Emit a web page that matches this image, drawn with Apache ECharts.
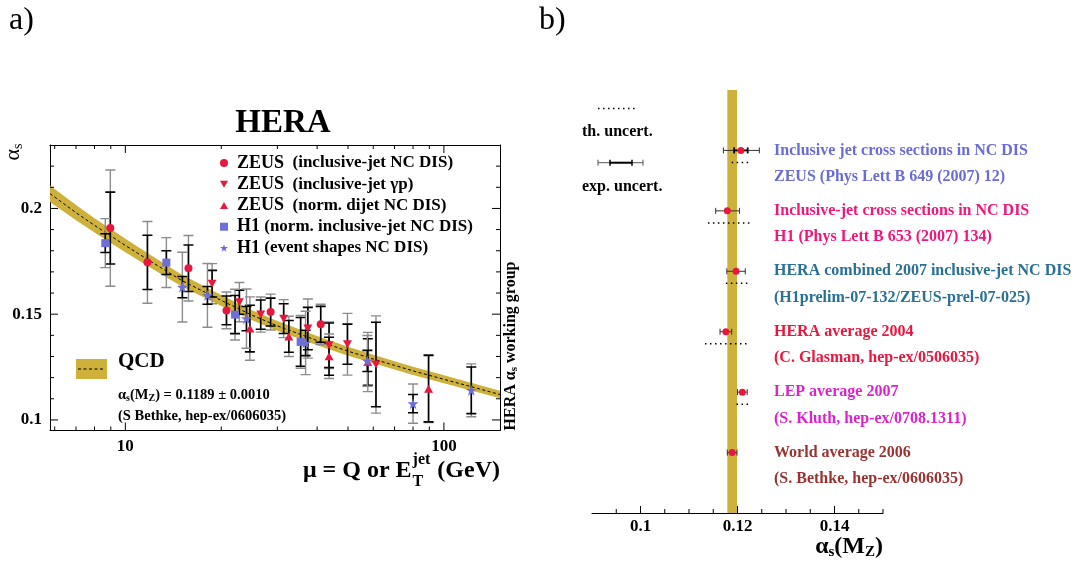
<!DOCTYPE html>
<html>
<head>
<meta charset="utf-8">
<script src="https://cdn.jsdelivr.net/npm/echarts@6/dist/echarts.min.js"></script>
<style>
  html, body { margin: 0; padding: 0; background: #fff; }
  #chart { width: 1077px; height: 566px; }
</style>
</head>
<body>
<div id="chart"></div>
<script>
// ---------- panel a: alpha_s versus scale ----------
// QCD running coupling band (centre and half width)
const qcdMu        = [5.8, 7, 8, 9, 10, 12, 15, 20, 25, 30, 40, 50, 60, 70, 80, 100, 120, 150];
const qcdAlpha     = [0.2070, 0.1980, 0.1920, 0.1870, 0.1825, 0.1750, 0.1660, 0.1565, 0.1495, 0.1445,
                      0.1375, 0.1325, 0.1288, 0.1258, 0.1232, 0.1192, 0.1160, 0.1120];
const qcdHalfWidth = [0.0039, 0.0036, 0.0034, 0.0033, 0.0032, 0.0030, 0.0028, 0.0026, 0.0024, 0.0023,
                      0.0022, 0.0021, 0.0020, 0.0020, 0.0019, 0.0019, 0.0018, 0.0018];

// ZEUS inclusive-jet NC DIS
const zeusDisMu    = [8.97, 11.73, 15.78, 20.77, 28.58, 41.04];
const zeusDisAlpha = [0.1907, 0.1745, 0.1717, 0.1518, 0.1510, 0.1452];
const zeusDisStat  = [0.0170, 0.0128, 0.0110, 0.0068, 0.0066, 0.0085];
const zeusDisTotal = [0.0275, 0.0193, 0.0155, 0.0087, 0.0085, 0.0095];

// ZEUS inclusive-jet photoproduction
const zeusGpMu    = [18.72, 22.8, 26.6, 31.4, 37.4, 43.6, 49.8, 61.2];
const zeusGpAlpha = [0.1644, 0.1557, 0.1498, 0.1479, 0.1432, 0.1353, 0.1358, 0.1262];
const zeusGpStat  = [0.0063, 0.0057, 0.0069, 0.0070, 0.0100, 0.0105, 0.0095, 0.0200];
const zeusGpTotal = [0.0095, 0.0093, 0.0083, 0.0090, 0.0140, 0.0110, 0.0146, 0.0230];

// ZEUS normalised dijet NC DIS
const zeusDijetMu    = [24.6, 32.6, 43.6, 57.7, 89.5];
const zeusDijetAlpha = [0.1432, 0.1395, 0.1301, 0.1274, 0.1148];
const zeusDijetStat  = [0.0110, 0.0075, 0.0090, 0.0110, 0.0157];
const zeusDijetTotal = [0.0150, 0.0095, 0.0105, 0.0140, 0.0160];

// H1 normalised inclusive-jet NC DIS
const h1JetMu    = [8.65, 13.45, 22.1, 35.5];
const h1JetAlpha = [0.1836, 0.1744, 0.1498, 0.1369];
const h1JetStat  = [0.0044, 0.0056, 0.0090, 0.0115];
const h1JetTotal = [0.0116, 0.0118, 0.0120, 0.0125];

// H1 event shapes NC DIS
const h1ShapeMu    = [15.1, 18.1, 24.0, 36.8, 57.5, 80.0, 121.9];
const h1ShapeAlpha = [0.1628, 0.1589, 0.1479, 0.1364, 0.1279, 0.1077, 0.1140];
const h1ShapeStat  = [0.0050, 0.0042, 0.0057, 0.0060, 0.0050, 0.0043, 0.0110];
const h1ShapeTotal = [0.0165, 0.0151, 0.0140, 0.0150, 0.0120, 0.0093, 0.0125];

const legendGroup = ['ZEUS', 'ZEUS', 'ZEUS', 'H1', 'H1'];
const legendNote  = ['(inclusive-jet NC DIS)', '(inclusive-jet \u03b3p)', '(norm. dijet NC DIS)',
                     '(norm. inclusive-jet NC DIS)', '(event shapes NC DIS)'];

const muRange    = [5.8, 150];
const alphaRange = [0.095, 0.23];
const muMajorTicks    = [10, 100];
const muMinorTicks    = [6, 7, 8, 9, 20, 30, 40, 50, 60, 70, 80, 90];
const alphaMajorTicks = [0.1, 0.15, 0.2];
const alphaMinorTicks = [0.11, 0.12, 0.13, 0.14, 0.16, 0.17, 0.18, 0.19, 0.21, 0.22];

// ---------- panel b: alpha_s(M_Z) determinations ----------
const worldAlpha = 0.1189;
const worldErr   = 0.0010;
const refTitle  = ['Inclusive jet cross sections in NC DIS', 'Inclusive-jet cross sections in NC DIS',
                   'HERA combined 2007 inclusive-jet NC DIS', 'HERA average 2004',
                   'LEP average 2007', 'World average 2006'];
const refSource = ['ZEUS (Phys Lett B 649 (2007) 12)', 'H1 (Phys Lett B 653 (2007) 134)',
                   '(H1prelim-07-132/ZEUS-prel-07-025)', '(C. Glasman, hep-ex/0506035)',
                   '(S. Kluth, hep-ex/0708.1311)', '(S. Bethke, hep-ex/0606035)'];
const refValue  = [0.1207, 0.1179, 0.1197, 0.1176, 0.1210, 0.1189];
const refExpLo  = [0.1171, 0.1155, 0.1178, 0.1164, 0.1200, 0.1179];
const refExpHi  = [0.1245, 0.1204, 0.1216, 0.1188, 0.1220, 0.1199];
const refStatLo = [0.1193, null, null, null, null, null];
const refStatHi = [0.1221, null, null, null, null, null];
const refThLo   = [0.1188, 0.1139, 0.1176, 0.1133, 0.1198, null];
const refThHi   = [0.1224, 0.1229, 0.1222, 0.1224, 0.1222, null];

const refRange      = [0.09, 0.15];
const refMajorTicks = [0.1, 0.12, 0.14];
const refMinorTicks = [0.095, 0.105, 0.11, 0.115, 0.125, 0.13, 0.135, 0.145, 0.15];

// ---------- styles ----------
const FONT = 'Liberation Serif';
const RED = '#e8173f';
const BLUE = '#6e6ed8';
const BAND = '#cdb13a';
const REF_COLORS = ['#6b6bd6', '#f0167a', '#2a7095', '#e8173f', '#dd22cc', '#993333'];
const STAR = 'path://M50,2 L61.2,36.5 L97.6,36.5 L68.2,57.9 L79.4,92.5 L50,71.1 L20.6,92.5 L31.8,57.9 L2.4,36.5 L38.8,36.5 Z';
const DOWN = 'path://M0,0 L20,0 L10,17.3 Z';
const UP   = 'path://M10,0 L20,17.3 L0,17.3 Z';

const log10 = Math.log10;
const muMin = log10(muRange[0]), muMax = log10(muRange[1]);

function frameAxis(grid, pos, min, max, labels) {
  return {
    gridIndex: grid, type: 'value', position: pos, min: min, max: max,
    axisLine: { show: true, onZero: false, lineStyle: { color: '#000', width: 1 } },
    axisTick: { show: false },
    axisLabel: labels ? Object.assign({
      show: true, color: '#000', fontFamily: FONT, fontWeight: 'bold', fontSize: 17
    }, labels) : { show: false },
    splitLine: { show: false },
    minorTick: { show: false }
  };
}

const xAxes = [
  frameAxis(0, 'bottom', muMin, muMax, { customValues: muMajorTicks.map(log10), margin: 8,
            formatter: v => String(Math.round(Math.pow(10, v))) }),
  frameAxis(0, 'top', muMin, muMax, null),
  frameAxis(1, 'bottom', refRange[0], refRange[1], { customValues: refMajorTicks, margin: 5,
            formatter: v => String(v) })
];
const yAxes = [
  frameAxis(0, 'left', alphaRange[0], alphaRange[1], { customValues: alphaMajorTicks, margin: 8,
            formatter: v => String(v) }),
  frameAxis(0, 'right', alphaRange[0], alphaRange[1], null),
  { gridIndex: 1, type: 'value', min: 0, max: 7, inverse: true, show: false }
];

function seg(x1, y1, x2, y2, style) {
  return { type: 'line', shape: { x1: x1, y1: y1, x2: x2, y2: y2 }, style: style };
}

const TICK = { stroke: '#000', lineWidth: 1 };

// inward frame ticks of panel a (all four sides)
const frameTicksA = {
  type: 'custom', xAxisIndex: 0, yAxisIndex: 0, z: 6, clip: false, silent: true, data: [0],
  renderItem: function (params, api) {
    const ch = [];
    const xTick = (m, len) => {
      const b = api.coord([log10(m), alphaRange[0]]), t = api.coord([log10(m), alphaRange[1]]);
      ch.push(seg(b[0], b[1], b[0], b[1] - len, TICK), seg(t[0], t[1], t[0], t[1] + len, TICK));
    };
    const yTick = (a, len) => {
      const l = api.coord([muMin, a]), r = api.coord([muMax, a]);
      ch.push(seg(l[0], l[1], l[0] + len, l[1], TICK), seg(r[0], r[1], r[0] - len, r[1], TICK));
    };
    muMajorTicks.forEach(m => xTick(m, 8));
    muMinorTicks.forEach(m => xTick(m, 4));
    alphaMajorTicks.forEach(a => yTick(a, 8));
    alphaMinorTicks.forEach(a => yTick(a, 4));
    return { type: 'group', children: ch };
  }
};

// upward ticks on the alpha_s(M_Z) axis of panel b
const frameTicksB = {
  type: 'custom', xAxisIndex: 2, yAxisIndex: 2, z: 6, clip: false, silent: true, data: [0],
  renderItem: function (params, api) {
    const ch = [];
    const tick = (v, len) => {
      const p = api.coord([v, 7]);
      ch.push(seg(p[0], p[1], p[0], p[1] - len, TICK));
    };
    refMajorTicks.forEach(v => tick(v, 7));
    refMinorTicks.forEach(v => tick(v, 4));
    return { type: 'group', children: ch };
  }
};

// vertical error bars: grey total, black statistical
function errorBarSeries(mu, alpha, stat, total) {
  return {
    type: 'custom', xAxisIndex: 0, yAxisIndex: 0, z: 3, clip: true, silent: true,
    data: mu.map((m, i) => [log10(m), alpha[i], stat[i], total[i]]),
    renderItem: function (params, api) {
      const x = api.value(0), y = api.value(1), s = api.value(2), t = api.value(3);
      const tTop = api.coord([x, y + t]), tBot = api.coord([x, y - t]);
      const sTop = api.coord([x, y + s]), sBot = api.coord([x, y - s]);
      const cx = tTop[0], hw = 5;
      const grey = { stroke: '#8c8c8c', lineWidth: 1.4 };
      const black = { stroke: '#000', lineWidth: 1.6 };
      return {
        type: 'group', children: [
          seg(cx, tTop[1], cx, tBot[1], grey),
          seg(cx - hw, tTop[1], cx + hw, tTop[1], grey),
          seg(cx - hw, tBot[1], cx + hw, tBot[1], grey),
          seg(cx, sTop[1], cx, sBot[1], black),
          seg(cx - hw, sTop[1], cx + hw, sTop[1], black),
          seg(cx - hw, sBot[1], cx + hw, sBot[1], black)
        ]
      };
    }
  };
}

function markerSeries(idx, mu, alpha, symbol, size, color) {
  return {
    type: 'scatter', name: legendGroup[idx] + ' ' + legendNote[idx],
    xAxisIndex: 0, yAxisIndex: 0, z: 5, symbol: symbol, symbolSize: size,
    itemStyle: { color: color, opacity: 1 },
    data: mu.map((m, i) => [log10(m), alpha[i]])
  };
}

const series = [
  // QCD band
  {
    type: 'custom', xAxisIndex: 0, yAxisIndex: 0, z: 1, clip: true, silent: true,
    data: [0],
    renderItem: function (params, api) {
      const upper = qcdMu.map((m, i) => api.coord([log10(m), qcdAlpha[i] + qcdHalfWidth[i]]));
      const lower = qcdMu.map((m, i) => api.coord([log10(m), qcdAlpha[i] - qcdHalfWidth[i]])).reverse();
      return { type: 'polygon', shape: { points: upper.concat(lower) }, style: { fill: BAND } };
    }
  },
  {
    type: 'line', xAxisIndex: 0, yAxisIndex: 0, z: 2, symbol: 'none', silent: true,
    lineStyle: { color: '#000', width: 1, type: [3, 2.5] },
    data: qcdMu.map((m, i) => [log10(m), qcdAlpha[i]])
  },
  errorBarSeries(zeusDisMu, zeusDisAlpha, zeusDisStat, zeusDisTotal),
  errorBarSeries(zeusGpMu, zeusGpAlpha, zeusGpStat, zeusGpTotal),
  errorBarSeries(zeusDijetMu, zeusDijetAlpha, zeusDijetStat, zeusDijetTotal),
  errorBarSeries(h1JetMu, h1JetAlpha, h1JetStat, h1JetTotal),
  errorBarSeries(h1ShapeMu, h1ShapeAlpha, h1ShapeStat, h1ShapeTotal),
  markerSeries(0, zeusDisMu, zeusDisAlpha, 'circle', 8, RED),
  markerSeries(1, zeusGpMu, zeusGpAlpha, DOWN, [9, 8], RED),
  markerSeries(2, zeusDijetMu, zeusDijetAlpha, UP, [9, 8], RED),
  markerSeries(3, h1JetMu, h1JetAlpha, 'rect', 8, BLUE),
  markerSeries(4, h1ShapeMu, h1ShapeAlpha, STAR, 11, BLUE),
  frameTicksA,

  // panel b: world-average band
  {
    type: 'custom', xAxisIndex: 2, yAxisIndex: 2, z: 1, silent: true,
    data: [0],
    renderItem: function (params, api) {
      const a = api.coord([worldAlpha - worldErr, 0]);
      const b = api.coord([worldAlpha + worldErr, 7]);
      return { type: 'rect', shape: { x: a[0], y: a[1], width: b[0] - a[0], height: b[1] - a[1] },
               style: { fill: BAND } };
    }
  },
  // panel b: horizontal error bars and theory-uncertainty lines
  {
    type: 'custom', xAxisIndex: 2, yAxisIndex: 2, z: 3, silent: true,
    data: refValue.map((v, i) => [v, i + 1]),
    renderItem: function (params, api) {
      const i = params.dataIndex, row = i + 1, cap = 3;
      const children = [];
      const hbar = (lo, hi, style) => {
        const a = api.coord([lo, row]), b = api.coord([hi, row]);
        children.push(seg(a[0], a[1], b[0], b[1], style),
                      seg(a[0], a[1] - cap, a[0], a[1] + cap, style),
                      seg(b[0], b[1] - cap, b[0], b[1] + cap, style));
      };
      hbar(refExpLo[i], refExpHi[i], { stroke: '#333', lineWidth: 1 });
      if (refStatLo[i] != null) hbar(refStatLo[i], refStatHi[i], { stroke: '#000', lineWidth: 1.8 });
      if (refThLo[i] != null) {
        const a = api.coord([refThLo[i], row + 0.2]), b = api.coord([refThHi[i], row + 0.2]);
        children.push(seg(a[0], a[1], b[0], b[1], { stroke: '#000', lineWidth: 1.5, lineDash: [1.5, 3.5] }));
      }
      return { type: 'group', children: children };
    }
  },
  {
    type: 'scatter', xAxisIndex: 2, yAxisIndex: 2, z: 5, symbol: 'circle', symbolSize: 7,
    itemStyle: { color: RED, opacity: 1 }, silent: true,
    data: refValue.map((v, i) => [v, i + 1])
  },
  frameTicksB
];

// text widths for the composite axis title
const measureCtx = document.createElement('canvas').getContext('2d');
function textWidth(str, size, weight) {
  measureCtx.font = (weight || 'bold') + ' ' + size + 'px "' + FONT + '"';
  return measureCtx.measureText(str).width;
}

function txt(x, y, text, size, opts) {
  opts = opts || {};
  return {
    type: 'text', x: x, y: y, rotation: opts.rotation || 0, silent: true,
    style: {
      text: text, fill: opts.color || '#000', fontFamily: FONT,
      fontWeight: opts.weight || 'bold', fontSize: size,
      textAlign: opts.align || 'left', textVerticalAlign: 'middle',
      rich: opts.rich
    }
  };
}

function subRich(main, sub, weight) {
  return {
    m: { fontFamily: FONT, fontWeight: weight || 'bold', fontSize: main, lineHeight: main + 2 },
    s: { fontFamily: FONT, fontWeight: weight || 'bold', fontSize: sub, lineHeight: sub * 0.55, verticalAlign: 'bottom' }
  };
}

const xTitleSize = 24, xScriptSize = 16, xTitleY = 471;
const gevW = textWidth(' (GeV)', xTitleSize);
const jetW = textWidth('jet', xScriptSize);
const gevLeft = 500 - gevW;
const scriptLeft = gevLeft - jetW - 1;

const graphics = [
  txt(9, 21, 'a)', 32, { weight: 'normal' }),
  txt(539, 21, 'b)', 32, { weight: 'normal' }),
  txt(283, 123, 'HERA', 33, { align: 'center' }),
  // y title
  txt(13, 152, '{m|\u03b1}{s|s}', 22, { align: 'center', rotation: Math.PI / 2, rich: subRich(22, 14, 'normal') }),
  // x title
  txt(scriptLeft - 1, xTitleY, '\u03bc = Q or E', xTitleSize, { align: 'right' }),
  txt(scriptLeft, xTitleY - 11, 'jet', xScriptSize),
  txt(scriptLeft, xTitleY + 11, 'T', xScriptSize),
  txt(gevLeft, xTitleY, ' (GeV)', xTitleSize),
  // working group tag
  txt(511, 346, '{m|HERA \u03b1}{s|s}{m| working group}', 16, { align: 'center', rotation: Math.PI / 2, rich: subRich(16, 11) }),
  // QCD legend
  { type: 'rect', silent: true, shape: { x: 76, y: 359, width: 31, height: 20 }, style: { fill: BAND } },
  { type: 'line', silent: true, shape: { x1: 78, y1: 369, x2: 105, y2: 369 },
    style: { stroke: '#000', lineWidth: 1, lineDash: [3, 2.5] } },
  txt(118, 362, 'QCD', 21),
  txt(118, 395, '{m|\u03b1}{s|s}{m|(M}{s|Z}{m|) = ' + worldAlpha.toFixed(4) + ' \u00b1 ' + worldErr.toFixed(4) + '}', 14,
      { rich: subRich(14.5, 10) }),
  txt(118, 416, '(S Bethke, hep-ex/0606035)', 14.5),
  // panel b legend
  { type: 'line', silent: true, shape: { x1: 598, y1: 108.5, x2: 637, y2: 108.5 },
    style: { stroke: '#000', lineWidth: 1.5, lineDash: [1.5, 3.5] } },
  txt(582, 132, 'th. uncert.', 16),
  { type: 'line', silent: true, shape: { x1: 598, y1: 162.7, x2: 643, y2: 162.7 }, style: { stroke: '#555', lineWidth: 1 } },
  { type: 'line', silent: true, shape: { x1: 598, y1: 159.7, x2: 598, y2: 165.7 }, style: { stroke: '#555', lineWidth: 1 } },
  { type: 'line', silent: true, shape: { x1: 643, y1: 159.7, x2: 643, y2: 165.7 }, style: { stroke: '#555', lineWidth: 1 } },
  { type: 'line', silent: true, shape: { x1: 610, y1: 162.7, x2: 632, y2: 162.7 }, style: { stroke: '#000', lineWidth: 2 } },
  { type: 'line', silent: true, shape: { x1: 610, y1: 159.7, x2: 610, y2: 165.7 }, style: { stroke: '#000', lineWidth: 1.5 } },
  { type: 'line', silent: true, shape: { x1: 632, y1: 159.7, x2: 632, y2: 165.7 }, style: { stroke: '#000', lineWidth: 1.5 } },
  txt(582, 187, 'exp. uncert.', 16),
  // panel b axis title
  txt(883, 547, '{m|\u03b1}{s|s}{m|(M}{s|Z}{m|)}', 24, { align: 'right', rich: subRich(24, 15) })
];

const chart = echarts.init(document.getElementById('chart'), null, { renderer: 'canvas' });
chart.setOption({
  animation: false,
  backgroundColor: '#fff',
  grid: [
    { left: 50, top: 145, width: 450, height: 285.5, containLabel: false, outerBoundsMode: 'none' },
    { left: 592, top: 90, width: 291, height: 423, containLabel: false, outerBoundsMode: 'none' }
  ],
  xAxis: xAxes,
  yAxis: yAxes,
  legend: {
    data: legendGroup.map((g, i) => g + ' ' + legendNote[i]),
    orient: 'vertical', left: 220, top: 154, padding: 0,
    itemWidth: 8, itemHeight: 8, itemGap: 3.25, selectedMode: false,
    formatter: function (name) {
      const i = legendGroup.map((g, k) => g + ' ' + legendNote[k]).indexOf(name);
      const gap = legendGroup[i] === 'ZEUS' ? '  ' : ' ';
      return '{n|' + legendGroup[i] + '}{p|' + gap + legendNote[i] + '}';
    },
    textStyle: {
      color: '#000', fontFamily: FONT, fontWeight: 'bold', fontSize: 17,
      rich: {
        n: { fontFamily: FONT, fontWeight: 'bold', fontSize: 18, lineHeight: 18, color: '#000', padding: [0, 0, 0, 4] },
        p: { fontFamily: FONT, fontWeight: 'bold', fontSize: 17, lineHeight: 18, color: '#000' }
      }
    }
  },
  series: series,
  graphic: graphics
});

// entry captions aligned with their rows
const captions = [];
refTitle.forEach((t, i) => {
  const y = chart.convertToPixel({ yAxisIndex: 2 }, i + 1);
  captions.push(txt(774, y, t, 16, { color: REF_COLORS[i] }));
  captions.push(txt(774, y + 26.5, refSource[i], 16, { color: REF_COLORS[i] }));
});
chart.setOption({ graphic: graphics.concat(captions) });
</script>
</body>
</html>
